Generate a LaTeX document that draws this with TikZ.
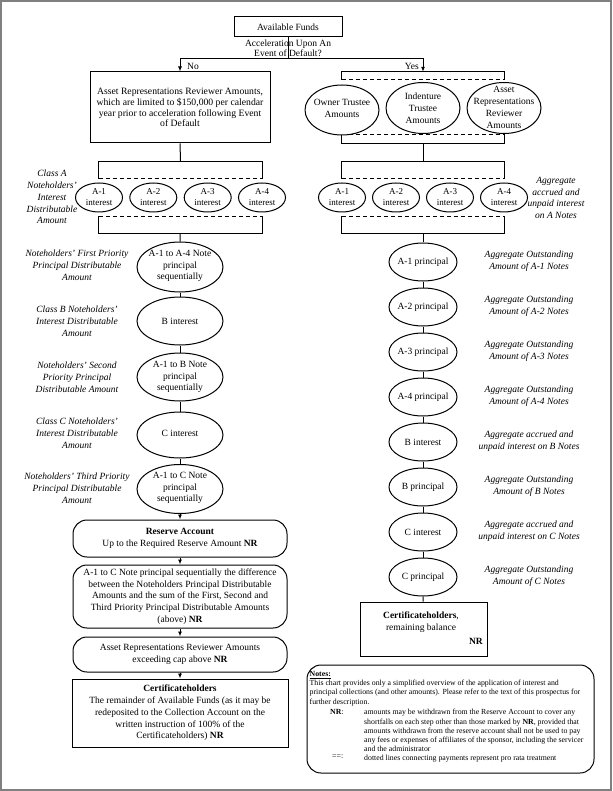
\documentclass[tikz,border=0pt]{standalone}
\usepackage{fontspec}
\setmainfont{Liberation Serif}
\usetikzlibrary{arrows.meta,shapes.geometric,calc}
\newcommand\mfs{\fontsize{9.5}{11.8}\selectfont}
\newcommand\nfs{\fontsize{7.8}{9.3}\selectfont}
\begin{document}
\begin{tikzpicture}[x=1pt,y=-1pt,
  ln/.style={line width=1pt,black},
  dsh/.style={line width=1pt,dash pattern=on 4.5pt off 2.5pt},
  arr/.style={ln,-{Latex[length=5pt,width=4pt]}},
  txt/.style={font=\mfs,align=center,inner sep=0pt},
  itxt/.style={font=\mfs\itshape,align=center,inner sep=0pt},
  ntxt/.style={font=\nfs,align=left,inner sep=0pt,anchor=north west},
  rect/.style={draw,line width=1pt,inner sep=0pt,align=center,font=\mfs},
  rbox/.style={rect,rounded corners=14pt},
  ell/.style={draw,ellipse,line width=1pt,fill=white,inner sep=0pt},
  grp/.style={rectangle,inner sep=0pt}]
\path[use as bounding box] (0,0) rectangle (612,791);
\draw[gray,line width=1.2pt] (1,1) rectangle (611,790);

% top
\node[rect,minimum width=108pt,minimum height=20pt] (af) at (288,27) {Available Funds};
\node[txt,font=\fontsize{9.5}{10.5}\selectfont] (q) at (288,48.5) {Acceleration Upon An\\Event of Default?};
\coordinate (split) at (288,59);
\node[txt,anchor=west] (no) at (187,66) {No};
\node[txt,anchor=east] (yes) at (419,66) {Yes};

\node[rect,minimum width=180pt,minimum height=71pt,font=\fontsize{9.7}{10.8}\selectfont] (nobox) at (180,107.5)
 {Asset Representations Reviewer Amounts,\\which are limited to \$150,000 per calendar\\year prior to acceleration following Event\\of Default};

\node[grp,minimum width=162pt,minimum height=71pt] (yesgrp) at (423,107.5) {};
\draw[ln] ([yshift=-8pt]yesgrp.north west) -- (yesgrp.north west) -- (yesgrp.north east) -- ([yshift=-8pt]yesgrp.north east);
\draw[dsh] ([yshift=-8pt]yesgrp.north west) -- ([yshift=-8pt]yesgrp.north east);
\draw[ln] ([yshift=9pt]yesgrp.south west) -- (yesgrp.south west) -- (yesgrp.south east) -- ([yshift=9pt]yesgrp.south east);
\draw[dsh] ([yshift=9pt]yesgrp.south west) -- ([yshift=9pt]yesgrp.south east);
\node[ell,minimum width=74pt,minimum height=50pt] (ot) at (342,110) {};
\node[txt] (ott) at (342,108.5) {Owner Trustee\\Amounts};
\node[ell,minimum width=74pt,minimum height=51pt] (it) at (423,108) {};
\node[txt] (itt) at (423,108) {Indenture\\Trustee\\Amounts};
\node[ell,minimum width=74pt,minimum height=51pt] (ar) at (504,108) {};
\node[txt] (art) at (504,107.5) {Asset\\Representations\\Reviewer\\Amounts};

\draw[ln] (af) -- (split);
\draw[arr] (split) -| (nobox.north);
\draw[arr] (split) -| (yesgrp.north);

% interest groups
\node[grp,minimum width=163pt,minimum height=71pt] (lint) at (180.5,197.5) {};
\node[grp,minimum width=162pt,minimum height=71pt] (rint) at (423,197.5) {};
\foreach \g in {lint,rint}{
  \draw[ln] ([yshift=-17pt]\g.north west) -- (\g.north west) -- (\g.north east) -- ([yshift=-17pt]\g.north east);
  \draw[dsh] ([yshift=-17pt]\g.north west) -- ([yshift=-17pt]\g.north east);
  \draw[ln] ([yshift=17pt]\g.south west) -- (\g.south west) -- (\g.south east) -- ([yshift=17pt]\g.south east);
  \draw[dsh] ([yshift=17pt]\g.south west) -- ([yshift=17pt]\g.south east);
}
\foreach \n/\x in {1/99,2/153.3,3/207.7,4/262}{
  \node[ell,minimum width=47pt,minimum height=29pt] (li\n) at (\x,197.5) {};
  \node[txt,font=\fontsize{9}{11}\selectfont] (li\n t) at (\x,197.5) {A-\n\\interest};
}
\foreach \n/\x in {1/342,2/396,3/450,4/504}{
  \node[ell,minimum width=47pt,minimum height=29pt] (ri\n) at (\x,197.5) {};
  \node[txt,font=\fontsize{9}{11}\selectfont] (ri\n t) at (\x,197.5) {A-\n\\interest};
}
\draw[ln] (nobox) -- (lint);
\draw[ln] (yesgrp) -- (rint);

% left labels
\node[itxt] (lA) at (52,197) {Class A\\Noteholders'\\Interest\\Distributable\\Amount};
\node[itxt] (l1) at (77,265) {Noteholders' First Priority\\Principal Distributable\\Amount};
\node[itxt] (l2) at (77,321) {Class B Noteholders'\\Interest Distributable\\Amount};
\node[itxt] (l3) at (77,377) {Noteholders' Second\\Priority Principal\\Distributable Amount};
\node[itxt] (l4) at (77,433) {Class C Noteholders'\\Interest Distributable\\Amount};
\node[itxt] (l5) at (77,488) {Noteholders' Third Priority\\Principal Distributable\\Amount};

% left ellipses
\node[ell,minimum width=86pt,minimum height=50pt] (e1) at (180,267) {};
\node[txt] (e1t) at (180,266) {A-1 to A-4 Note\\principal\\sequentially};
\node[ell,minimum width=86pt,minimum height=48pt] (e2) at (180,321) {};
\node[txt] (e2t) at (180,321) {B interest};
\node[ell,minimum width=86pt,minimum height=48pt] (e3) at (180,377) {};
\node[txt] (e3t) at (180,377) {A-1 to B Note\\principal\\sequentially};
\node[ell,minimum width=86pt,minimum height=46pt] (e4) at (180,435) {};
\node[txt] (e4t) at (180,433.5) {C interest};
\node[ell,minimum width=86pt,minimum height=49pt] (e5) at (180,489) {};
\node[txt] (e5t) at (180,488) {A-1 to C Note\\principal\\sequentially};
\draw[ln] (lint) -- (e1);
\draw[ln] (e1) -- (e2);
\draw[ln] (e2) -- (e3);
\draw[ln] (e3) -- (e4);
\draw[ln] (e4) -- (e5);

% bottom left boxes
\node[rbox,minimum width=214pt,minimum height=37pt] (res) at (180,538.5)
 {\textbf{Reserve Account}\\Up to the Required Reserve Amount \textbf{NR}};
\node[rbox,minimum width=214pt,minimum height=63pt] (b2) at (180,596.5)
 {A-1 to C Note principal sequentially the difference\\between the Noteholders Principal Distributable\\Amounts and the sum of the First, Second and\\Third Priority Principal Distributable Amounts\\(above) \textbf{NR}};
\node[rbox,minimum width=214pt,minimum height=35pt] (b3) at (180,654.5)
 {Asset Representations Reviewer Amounts\\exceeding cap above \textbf{NR}};
\node[rect,minimum width=216pt,minimum height=68pt] (b4) at (180,713)
 {\textbf{Certificateholders}\\The remainder of Available Funds (as it may be\\redeposited to the Collection Account on the\\written instruction of 100\% of the\\Certificateholders) \textbf{NR}};
\draw[arr] (e5) -- (res);
\draw[arr] (res) -- (b2);
\draw[arr] (b2) -- (b3);
\draw[arr] (b3) -- (b4);

% right column
\node[itxt] (rA) at (556,198) {Aggregate\\accrued and\\unpaid interest\\on A Notes};
\foreach \n/\y/\t/\l in {
  1/262/A-1 principal/Aggregate Outstanding\\Amount of A-1 Notes,
  2/307/A-2 principal/Aggregate Outstanding\\Amount of A-2 Notes,
  3/352/A-3 principal/Aggregate Outstanding\\Amount of A-3 Notes,
  4/397/A-4 principal/Aggregate Outstanding\\Amount of A-4 Notes,
  5/442/B interest/Aggregate accrued and\\unpaid interest on B Notes,
  6/487/B principal/Aggregate Outstanding\\Amount of B Notes,
  7/532/C interest/Aggregate accrued and\\unpaid interest on C Notes,
  8/577/C principal/Aggregate Outstanding\\Amount of C Notes}{
  \node[ell,minimum width=68pt,minimum height=38pt] (p\n) at (423,\y) {};
  \node[txt] (p\n t) at (423,\y) {\t};
  \node[itxt] (pl\n) at (529,\y-1) {\l};
}
\draw[ln] (rint) -- (p1);
\foreach \a/\b in {1/2,2/3,3/4,4/5,5/6,6/7,7/8}{\draw[ln] (p\a) -- (p\b);}
\node[rect,minimum width=127pt,minimum height=54pt] (cert) at (423.5,629) {};
\node[txt] (certt) at (421,622) {\textbf{Certificateholders},\\remaining balance};
\node[txt,anchor=east] (certnr) at (483,641) {\textbf{NR}};
\draw[ln] (p8) -- (cert);

% notes
\node[rbox,minimum width=287pt,minimum height=108pt] (notes) at (450.5,719) {};
\node[ntxt] (nh) at (309.5,671) {\underline{\textbf{Notes:}}\\This chart provides only a simplified overview of the application of interest and\\principal collections (and other amounts). Please refer to the text of this prospectus for\\further description.};
\node[ntxt] (nrl) at (330,709) {\textbf{NR}:};
\node[ntxt] (nrd) at (364,709) {amounts may be withdrawn from the Reserve Account to cover any\\shortfalls on each step other than those marked by \textbf{NR}, provided that\\amounts withdrawn from the reserve account shall not be used to pay\\any fees or expenses of affiliates of the sponsor, including the servicer\\and the administrator};
\node[ntxt] (eql) at (332,755) {==:};
\node[ntxt] (eqd) at (364,755) {dotted lines connecting payments represent pro rata treatment};
\end{tikzpicture}
\end{document}
